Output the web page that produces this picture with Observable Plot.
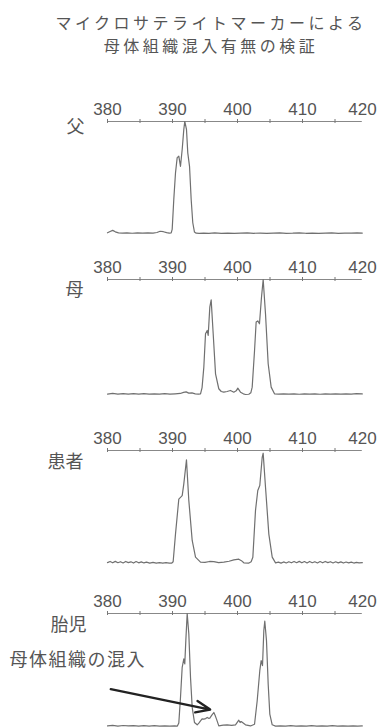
<!DOCTYPE html>
<html><head><meta charset="utf-8">
<script src="https://cdn.jsdelivr.net/npm/d3@7"></script>
<script src="https://cdn.jsdelivr.net/npm/@observablehq/plot@0.6"></script>
<style>
html,body{margin:0;padding:0;background:#fff;}
#wrap{position:relative;width:381px;height:727px;overflow:hidden;}
.tline{position:absolute;left:0;width:422px;height:23px;text-align:center;font-size:16px;line-height:23px;letter-spacing:3.5px;color:#555;font-family:"Noto Sans CJK JP",sans-serif;white-space:nowrap;}
.panel{position:absolute;left:0;}
</style></head><body>
<div id="wrap"></div>
<script>
const titleLines = ["マイクロサテライトマーカーによる", "母体組織混入有無の検証"];
const sampleNames = ["父", "母", "患者", "胎児"];
const annotationText = "母体組織の混入";
const majorTicks = [380, 390, 400, 410, 420];
const minorTicks = [380, 385, 390, 395, 400, 405, 410, 415];

// [fragment size, relative signal (0 = baseline, 100 = top line)]
const fatherTrace = [[380,0.6],[380.4,1.8],[380.8,2.8],[381.2,1.5],[381.7,0.5],[382.3,0.3],[383,0.6],[383.8,0.2],[384.6,0.5],[385.4,0.3],[386.2,0.6],[387,0.4],[387.6,0.9],[388.1,2.0],[388.6,1.6],[389.1,0.8],[389.5,0.4],[389.8,0.6],[389.95,3.7],[390.2,30.5],[390.46,54],[390.72,67.7],[390.97,69],[391.23,60],[391.49,75],[391.74,93],[391.89,100],[392.15,93],[392.35,72],[392.62,60],[392.87,30.5],[393.12,9.6],[393.38,1.3],[393.64,0.3],[394.1,0.1],[394.8,0.4],[395.6,0.2],[396.5,0.5],[397.5,0.2],[398.5,0.4],[399.5,0.1],[400.5,0.3],[401.5,0.5],[402.5,0.2],[403.5,0.4],[404.5,0.1],[405.5,0.3],[406.5,0.5],[407.5,0.2],[408.5,0.3],[409.5,0.6],[410.5,0.2],[411.5,0.4],[412.5,0.1],[413.5,0.3],[414.5,0.5],[415.5,0.2],[416.5,0.4],[417.5,0.3],[418.4,0.5],[419.2,0.4]];

const motherTrace = [[380,0.4],[380.8,0.9],[381.6,0.4],[382.4,0.8],[383.2,0.3],[384,0.7],[384.8,0.4],[385.6,0.8],[386.4,0.3],[387.2,0.6],[388,0.4],[388.8,0.7],[389.6,0.3],[390.4,0.6],[391.2,0.9],[391.7,1.8],[392.1,2.3],[392.5,1.2],[393,1.4],[393.5,0.6],[394,0.3],[394.31,0.5],[394.55,6],[394.82,23.8],[395.08,52.8],[395.34,55.7],[395.49,51.3],[395.74,76],[395.95,82.3],[396.26,52.8],[396.62,18],[397.12,5],[397.5,2.6],[397.89,2],[398.4,2.6],[398.92,3.5],[399.43,2],[399.8,3.2],[400.05,5.5],[400.46,2],[400.9,0.6],[401.23,0],[401.74,0.2],[402.05,1.5],[402.26,6.4],[402.62,38],[402.87,63],[403.12,64],[403.38,61.5],[403.69,84.6],[403.95,100],[404.31,70],[404.72,26.7],[405.18,6.4],[405.69,0.6],[406.3,0.3],[407.1,0.6],[407.9,0.3],[408.7,0.5],[409.5,0.2],[410.3,0.6],[411.1,0.3],[411.9,0.5],[412.7,0.2],[413.5,0.5],[414.3,0.3],[415.1,0.6],[415.9,0.3],[416.7,0.5],[417.5,0.4],[418.3,0.7],[419.2,0.5]];

const patientTrace = [[380,0.8],[380.4,1.8],[380.8,0.6],[381.2,1.9],[381.6,0.7],[382,1.6],[382.4,0.5],[382.8,1.8],[383.2,0.8],[383.6,1.5],[384,0.4],[384.4,1.7],[384.8,0.6],[385.2,1.4],[385.6,0.5],[386,1.2],[386.5,0.4],[387,1.0],[387.5,0.3],[388,0.8],[388.5,0.4],[389,0.7],[389.5,0.3],[389.9,0.4],[390.1,1.5],[390.46,26],[390.97,57],[391.49,60],[391.74,70.5],[392.15,91.8],[392.51,55.8],[393.03,20.4],[393.54,5.6],[394.31,1.2],[395,1.0],[395.7,1.8],[396.36,1.7],[397.1,0.8],[397.9,1.2],[398.7,2.0],[399.43,3.2],[400.2,3.8],[400.6,2.5],[400.97,0.6],[401.7,0.3],[402.1,1.5],[402.36,5.6],[402.77,47],[403.12,64.6],[403.43,69],[403.8,94],[403.95,97.6],[404.31,67.5],[404.82,26],[405.34,5.6],[405.85,0.6],[406.3,1.2],[406.7,0.3],[407.1,1.4],[407.5,0.5],[407.9,1.6],[408.3,0.6],[408.7,1.8],[409.1,0.7],[409.5,1.9],[409.9,0.6],[410.3,1.7],[410.7,0.5],[411.1,1.8],[411.5,0.7],[411.9,1.6],[412.3,0.5],[412.7,1.7],[413.1,0.6],[413.5,1.8],[413.9,0.8],[414.3,1.6],[414.7,0.5],[415.1,1.5],[415.5,0.6],[415.9,1.4],[416.3,0.4],[416.7,1.3],[417.1,0.5],[417.5,1.2],[417.9,0.4],[418.3,1.0],[418.7,0.5],[419.2,0.8]];

const fetusTrace = [[380,0.5],[380.8,1.0],[381.6,0.4],[382.4,0.9],[383.2,0.5],[384,0.8],[384.8,0.3],[385.6,0.7],[386.4,0.4],[387.2,0.8],[388,0.4],[388.8,0.6],[389.6,0.3],[390.3,0.5],[390.75,0.4],[390.97,3],[391.23,25.7],[391.49,52.4],[391.74,59.8],[391.89,55.4],[392.05,76],[392.26,100],[392.51,82],[392.77,43.5],[393.03,16.9],[393.38,3.6],[393.8,1.5],[394.05,3],[394.31,5],[394.55,6.8],[394.82,6.5],[395.1,7],[395.34,8],[395.55,7.2],[395.74,7.4],[396.05,10],[396.36,12.4],[396.55,10],[396.77,6.5],[397.12,0.6],[397.8,1.2],[398.41,1.5],[399.1,1],[399.69,1.5],[400.2,5.6],[400.4,3.5],[400.57,4.4],[401.23,1.5],[402,0.5],[402.62,2],[403.03,22.8],[403.43,49.4],[403.64,58.3],[403.85,53.9],[404.05,85],[404.2,93.2],[404.46,76],[404.72,37.6],[404.97,11],[405.34,1.5],[405.85,0.3],[406.6,0.6],[407.4,0.3],[408.2,0.7],[409,0.4],[409.8,0.6],[410.6,0.3],[411.4,0.7],[412.2,0.4],[413,0.6],[413.8,0.3],[414.6,0.7],[415.4,0.4],[416.2,0.6],[417,0.3],[417.8,0.6],[418.5,0.4],[419.2,0.5]];

// annotation arrow: from label to the maternal contamination peak (size, signal)
const arrowStart = [380.5, 33];
const arrowEnd = [395.8, 15];
const axisEnd = 419.2;

const wrap = document.getElementById("wrap");
titleLines.forEach((line, i) => {
  const d = document.createElement("div");
  d.className = "tline";
  d.style.top = (11 + i * 23) + "px";
  d.textContent = line;
  wrap.appendChild(d);
});

const layout = [
  {top: 81,  h: 112, mb: 6, dx: -23, dy: 6},
  {top: 239, h: 115, mb: 6, dx: -24, dy: 11},
  {top: 410, h: 113, mb: 6, dx: -24, dy: 12},
  {top: 573, h: 113, mb: 1, dx: -21, dy: 12}
];
const traces = [fatherTrace, motherTrace, patientTrace, fetusTrace];
const MT = 40;
const textColor = "#555";
const jpFont = "Noto Sans CJK JP, sans-serif";
const numFont = "Liberation Sans, Arial, sans-serif";

traces.forEach((trace, i) => {
  const L = layout[i];
  const data = trace.map(([size, signal]) => ({size, signal}));
  const marks = [
    Plot.ruleY([100], {x1: 380, x2: axisEnd, stroke: "#888", strokeWidth: 1}),
    Plot.ruleX(minorTicks, {x: d => d, y1: 100, y2: 100, insetTop: -2, insetBottom: -2, stroke: "#777", strokeWidth: 1}),
    Plot.text(majorTicks, {filter: d => d < 420, x: d => d, text: d => String(d), frameAnchor: "top", lineAnchor: "bottom", dy: -7, fontSize: 17, fill: textColor, fontFamily: numFont}),
    Plot.text(majorTicks, {filter: d => d === 420, x: d => d, text: d => String(d), frameAnchor: "top", lineAnchor: "bottom", dy: -7, dx: -5, fontSize: 17, fill: textColor, fontFamily: numFont}),
    Plot.line(data, {x: "size", y: "signal", stroke: "#707070", strokeWidth: 1.2}),
    Plot.text([sampleNames[i]], {text: d => d, frameAnchor: "top-left", textAnchor: "end", lineAnchor: "middle", dx: L.dx, dy: L.dy, fontSize: 18, fill: textColor, fontFamily: jpFont})
  ];
  if (i === 3) {
    marks.push(Plot.text([annotationText], {text: d => d, frameAnchor: "top-left", textAnchor: "start", lineAnchor: "middle", dx: -98, dy: 47, fontSize: 18, fill: textColor, fontFamily: jpFont}));
    marks.push(Plot.arrow([{a: arrowStart, b: arrowEnd}], {x1: d => d.a[0], y1: d => d.a[1], x2: d => d.b[0], y2: d => d.b[1], stroke: "#222", strokeWidth: 2.3, headLength: 10, headAngle: 45}));
  }
  const svg = Plot.plot({
    width: 381,
    height: MT + L.h + L.mb,
    marginTop: MT,
    marginBottom: L.mb,
    marginLeft: 107,
    marginRight: 14,
    x: {domain: [380, 420], axis: null},
    y: {domain: [0, 100], axis: null},
    style: {background: "transparent", overflow: "visible"},
    marks
  });
  svg.classList.add("panel");
  svg.style.top = L.top + "px";
  svg.style.position = "absolute";
  svg.querySelectorAll("text").forEach(t => { if (t.textContent === annotationText) t.style.letterSpacing = "1.5px"; });
  wrap.appendChild(svg);
});
</script>
</body></html>
